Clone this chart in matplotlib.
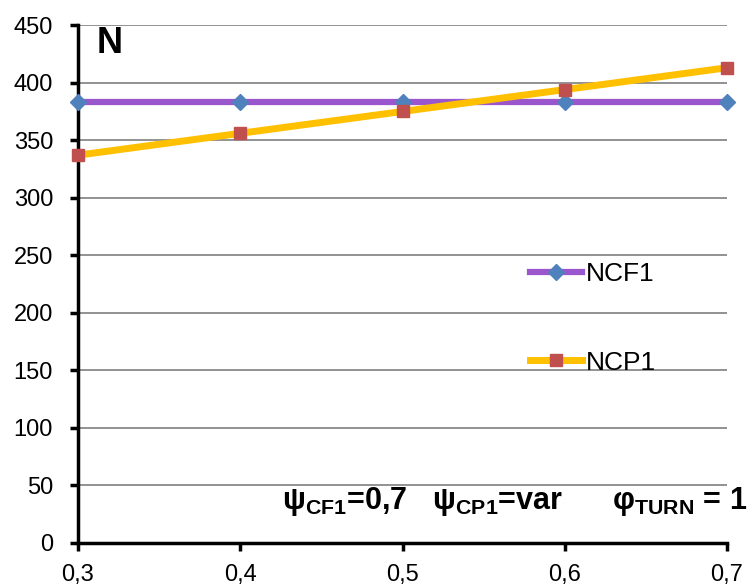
import matplotlib.pyplot as plt
from matplotlib.ticker import FixedLocator

plt.rcParams['font.family'] = ['Liberation Sans', 'DejaVu Sans']
plt.rcParams['mathtext.fontset'] = 'custom'
plt.rcParams['mathtext.bf'] = 'Liberation Sans:bold'
plt.rcParams['mathtext.rm'] = 'Liberation Sans:bold'
plt.rcParams['mathtext.default'] = 'bf'

x = [0.3, 0.4, 0.5, 0.6, 0.7]
ncf1 = [383, 383, 383, 383, 383]
ncp1 = [337, 356, 375, 394, 413]
xticklabels = ['0,3', '0,4', '0,5', '0,6', '0,7']
yticks = [0, 50, 100, 150, 200, 250, 300, 350, 400, 450]

fig = plt.figure(figsize=(7.52, 5.85), dpi=100)
ax = fig.add_axes([0.1037, 0.0718, 0.8631, 0.8852])

ax.plot(x, ncf1, color='#9A57CD', lw=4.5, marker='D', ms=8.5,
        mfc='#4F81BD', mec='#4F81BD', label='NCF1', zorder=3, clip_on=False)
ax.plot(x, ncp1, color='#FFC000', lw=5, marker='s', ms=9,
        mfc='#C0504D', mec='#C0504D', label='NCP1', zorder=4, clip_on=False)

ax.set_xlim(0.3, 0.7)
ax.set_ylim(0, 450)
ax.xaxis.set_major_locator(FixedLocator(x))
ax.set_xticklabels(xticklabels)
ax.set_yticks(yticks)
ax.yaxis.grid(True, color='#898989', lw=1.3)
ax.set_axisbelow(True)

for s in ['top', 'right']:
    ax.spines[s].set_visible(False)
ax.spines['left'].set_linewidth(2.5)
ax.spines['bottom'].set_linewidth(2.5)
ax.tick_params(axis='both', direction='out', length=6, width=2.5,
               labelsize=17, colors='black')
ax.tick_params(axis='x', pad=9)
ax.tick_params(axis='y', pad=12)

ax.text(0.3117, 449, 'N', fontsize=26, fontweight='bold', va='top', ha='left')

ax.text(1.032, 0.08,
        r'$ψ_{CF1}$=0,7   $ψ_{CP1}$=var      $φ_{TURN}$ = 1',
        transform=ax.transAxes, ha='right', va='center',
        fontsize=22, fontweight='bold', clip_on=False)

leg = ax.legend(loc='center left', bbox_to_anchor=(0.66, 0.434),
                frameon=False, fontsize=19, handlelength=1.95,
                handletextpad=0.15, labelspacing=2.45)

fig.savefig('out.png', dpi=100)
